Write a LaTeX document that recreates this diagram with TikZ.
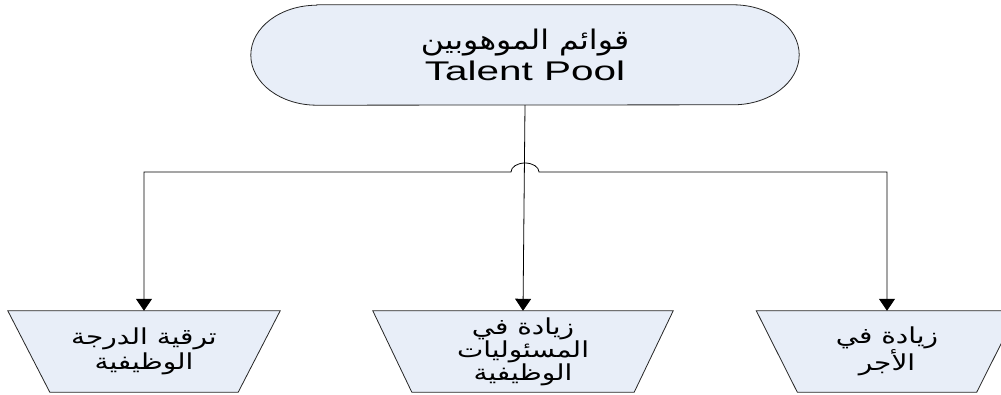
\documentclass[tikz,border=0pt]{standalone}
\usepackage{graphicx}
\usepackage{fontspec}
\setmainfont{Liberation Sans}
\newfontfamily\arabicfont[Script=Arabic]{DejaVu Sans}
\TeXXeTstate=1
\usetikzlibrary{arrows.meta, backgrounds}
\definecolor{boxfill}{HTML}{E8EEF8}
\newcommand\widetext[2][1.45]{\scalebox{#1}[1]{#2}}
\newcommand\artxt[2][1.27]{\widetext[#1]{\arabicfont\beginR #2\endR}}
\tikzset{poolbox/.style={minimum width=548pt, minimum height=100pt, inner sep=0pt, align=center},
	trapbox/.style={minimum height=81pt, inner sep=0pt, align=center, font=\fontsize{22}{25}\selectfont},
	outline/.style={draw=black!85, fill=boxfill, line width=0.8pt},
	conn/.style={draw, line width=0.8pt},
	>={Triangle[width=16pt,length=12pt]} }

\begin{document}
\begin{tikzpicture}[x=1pt, y=1pt]
	\useasboundingbox (0,0) rectangle (1001,394);

	\node (pool) [poolbox, font=\fontsize{27}{31}\selectfont] at (525,339)
		{\artxt[1.17]{قوائم الموهوبين}\\\widetext[1.5]{Talent Pool}};
	\node (promo) [trapbox, minimum width=272pt] at (144,42.5)
		{\artxt{ترقية الدرجة}\\\artxt{الوظيفية}};
	\node (resp) [trapbox, minimum width=300pt, font=\fontsize{22}{23}\selectfont] at (523,42.5)
		{\artxt{زيادة في}\\\artxt{المسئوليات}\\\artxt{الوظيفية}};
	\node (pay) [trapbox, minimum width=261pt] at (887,42.5)
		{\artxt{زيادة في}\\\artxt{الأجر}};

	\begin{scope}[on background layer]
		\draw[outline] ([xshift=66pt]pool.north west) -- ([xshift=-66pt]pool.north east)
			arc[start angle=90, end angle=-90, x radius=66pt, y radius=50pt]
			-- ([xshift=66pt]pool.south west)
			arc[start angle=270, end angle=90, x radius=66pt, y radius=50pt] -- cycle;
		\foreach \n/\d in {promo/42, resp/39, pay/41}
			\draw[outline] (\n.north west) -- (\n.north east) -- ([xshift=-\d pt]\n.south east)
				-- ([xshift=\d pt]\n.south west) -- cycle;
	\end{scope}

	\coordinate (jump) at (525,222);
	\draw[conn, ->] (pool.south) -- (resp.north);
	\draw[conn, <->] (promo.north) |- ([xshift=-14pt]jump)
		arc[start angle=180, end angle=0, x radius=14pt, y radius=9pt] -| (pay.north);
\end{tikzpicture}
\end{document}
